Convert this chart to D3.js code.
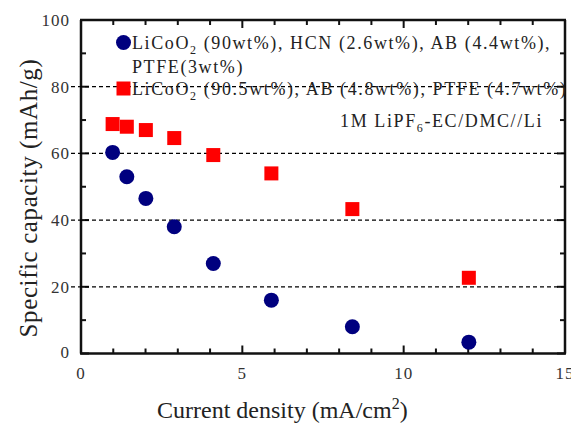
<html>
<head>
<script src="https://cdnjs.cloudflare.com/ajax/libs/d3/7.8.5/d3.min.js"></script>
</head>
<body style="margin:0;background:#fff">
<svg id="canvas" width="571" height="427" font-family="Liberation Serif, Times New Roman, serif"></svg>
<script>

// data
var hcnX = [0.98, 1.42, 2.01, 2.89, 4.10, 5.90, 8.41, 12.02];
var hcnY = [60.3, 53.0, 46.5, 38.0, 27.0, 16.0, 8.0, 3.4];
var refX = [0.98, 1.42, 2.01, 2.89, 4.10, 5.90, 8.41, 12.02];
var refY = [68.8, 68.0, 67.0, 64.6, 59.5, 54.0, 43.3, 22.7];
var xTicks = [0, 5, 10, 15];
var yTicks = [0, 20, 40, 60, 80, 100];
var gridY = [20, 40, 60, 80];

var svg = d3.select('#canvas');
var pLeft = 81, pRight = 565, pTop = 20, pBottom = 353.5;

var x = d3.scaleLinear().domain([0, 15]).range([pLeft, pRight]);
var y = d3.scaleLinear().domain([0, 100]).range([pBottom, pTop]);

// frame
svg.append('line').attr('x1', pLeft).attr('x2', pLeft).attr('y1', pTop).attr('y2', pBottom).attr('stroke', '#111').attr('stroke-width', 2.5);
svg.append('line').attr('x1', pRight).attr('x2', pRight).attr('y1', pTop).attr('y2', pBottom).attr('stroke', '#111').attr('stroke-width', 2.5);
svg.append('line').attr('x1', pLeft - 1).attr('x2', pRight + 1).attr('y1', pTop).attr('y2', pTop).attr('stroke', '#111').attr('stroke-width', 2.5);
svg.append('line').attr('x1', pLeft - 1).attr('x2', pRight + 1).attr('y1', pBottom).attr('y2', pBottom).attr('stroke', '#111').attr('stroke-width', 2.5);

// inward ticks
d3.range(0, 16, 1).forEach(function(v) {
  var len = v % 5 === 0 ? 8 : 5;
  svg.append('line').attr('x1', x(v)).attr('x2', x(v)).attr('y1', pBottom).attr('y2', pBottom - len).attr('stroke', '#111').attr('stroke-width', 2);
  svg.append('line').attr('x1', x(v)).attr('x2', x(v)).attr('y1', pTop).attr('y2', pTop + len).attr('stroke', '#111').attr('stroke-width', 2);
});
d3.range(0, 101, 10).forEach(function(v) {
  var len = v % 20 === 0 ? 8 : 5;
  svg.append('line').attr('y1', y(v)).attr('y2', y(v)).attr('x1', pLeft).attr('x2', pLeft + len).attr('stroke', '#111').attr('stroke-width', 2);
  svg.append('line').attr('y1', y(v)).attr('y2', y(v)).attr('x1', pRight).attr('x2', pRight - len).attr('stroke', '#111').attr('stroke-width', 2);
});

// dashed grid
svg.selectAll('.grid')
  .data(gridY)
  .enter()
  .append('line')
  .attr('class', 'grid')
  .attr('x1', pLeft - 10)
  .attr('x2', pRight)
  .attr('y1', function(d) { return y(d); })
  .attr('y2', function(d) { return y(d); })
  .attr('stroke', '#000')
  .attr('stroke-width', 1.3)
  .attr('stroke-dasharray', '4,3');

// tick labels
svg.selectAll('.xl')
  .data(xTicks)
  .enter()
  .append('text')
  .attr('class', 'xl')
  .attr('x', function(d) { return x(d); })
  .attr('y', pBottom + 25)
  .attr('text-anchor', 'middle')
  .attr('font-size', 17)
  .attr('letter-spacing', 1)
  .attr('fill', '#333')
  .text(function(d) { return d; });

svg.selectAll('.yl')
  .data(yTicks)
  .enter()
  .append('text')
  .attr('class', 'yl')
  .attr('x', pLeft - 11)
  .attr('y', function(d) { return d === 0 ? y(d) + 4 : y(d) + 6; })
  .attr('text-anchor', 'end')
  .attr('font-size', 17)
  .attr('letter-spacing', 1)
  .attr('fill', '#333')
  .text(function(d) { return d; });

// axis titles
var xt = svg.append('text')
  .attr('x', 157)
  .attr('y', 418)
  .attr('font-size', 24)
  .attr('fill', '#222');
xt.append('tspan').text('Current density (mA/cm');
xt.append('tspan').attr('dy', -9).attr('font-size', 16).text('2');
xt.append('tspan').attr('dy', 9).text(')');

svg.append('text')
  .attr('transform', 'translate(37,198) rotate(-90)')
  .attr('text-anchor', 'middle')
  .attr('font-size', 25)
  .attr('letter-spacing', 0.6)
  .attr('fill', '#222')
  .text('Specific capacity (mAh/g)');

// data marks
svg.selectAll('.hcn')
  .data(d3.zip(hcnX, hcnY))
  .enter()
  .append('circle')
  .attr('class', 'hcn')
  .attr('cx', function(d) { return x(d[0]); })
  .attr('cy', function(d) { return y(d[1]); })
  .attr('r', 7.5)
  .attr('fill', '#00007f');

svg.selectAll('.ref')
  .data(d3.zip(refX, refY))
  .enter()
  .append('rect')
  .attr('class', 'ref')
  .attr('x', function(d) { return x(d[0]) - 7; })
  .attr('y', function(d) { return y(d[1]) - 7; })
  .attr('width', 14)
  .attr('height', 14)
  .attr('fill', '#ff0000');

// legend
svg.append('circle').attr('cx', 123.5).attr('cy', 42.5).attr('r', 7.5).attr('fill', '#00007f');
svg.append('rect').attr('x', 116.5).attr('y', 81.5).attr('width', 14).attr('height', 14).attr('fill', '#ff0000');

function chem(yy, parts) {
  var t = svg.append('text').attr('x', 132).attr('y', yy).attr('font-size', 18).attr('letter-spacing', 1.6).attr('fill', '#222');
  t.append('tspan').text('LiCoO');
  t.append('tspan').attr('dy', 5).attr('font-size', 12).text('2');
  t.append('tspan').attr('dy', -5).text(parts);
}
chem(49, ' (90wt%), HCN (2.6wt%), AB (4.4wt%),');
svg.append('text').attr('x', 132).attr('y', 73).attr('font-size', 18).attr('letter-spacing', 1.6).attr('fill', '#222').text('PTFE(3wt%)');
chem(95, ' (90.5wt%), AB (4.8wt%), PTFE (4.7wt%)');

var el = svg.append('text').attr('x', 543).attr('y', 127).attr('text-anchor', 'end').attr('font-size', 18).attr('letter-spacing', 1.6).attr('fill', '#222');
el.append('tspan').text('1M LiPF');
el.append('tspan').attr('dy', 5).attr('font-size', 12).text('6');
el.append('tspan').attr('dy', -5).text('-EC/DMC//Li');

</script>
</body>
</html>
